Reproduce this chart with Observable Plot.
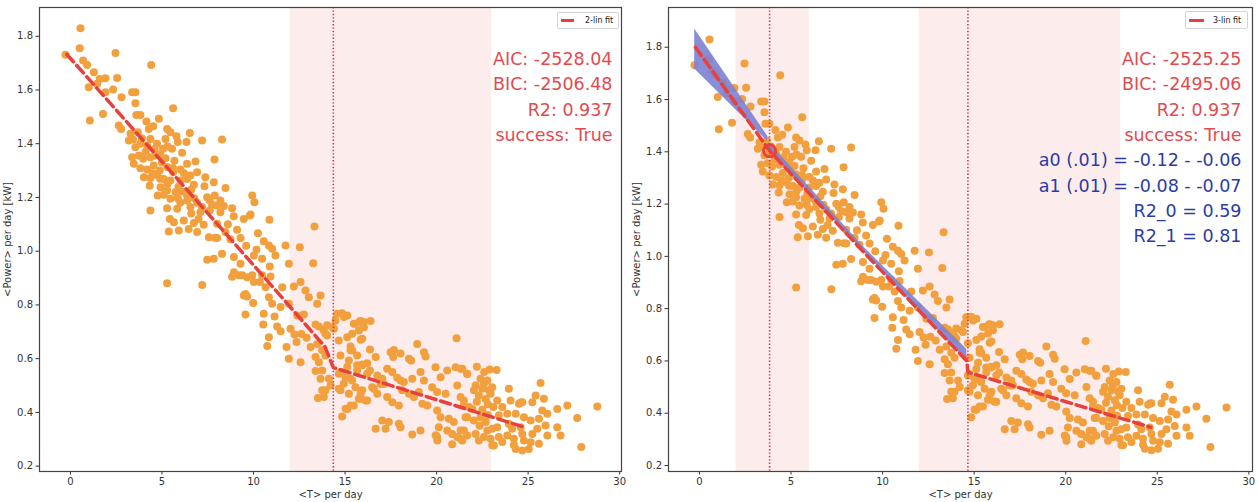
<!DOCTYPE html>
<html><head><meta charset="utf-8">
<script src="https://cdn.jsdelivr.net/npm/d3@7"></script>
<script src="https://cdn.jsdelivr.net/npm/@observablehq/plot@0.6"></script>
<style>
body{margin:0;background:#fff;font-family:"DejaVu Sans",sans-serif;}
#wrap{position:relative;width:1258px;height:502px;overflow:hidden;}
.panel{position:absolute;top:0;}
.legend{position:absolute;background:#fff;border:1px solid #d4d4d4;border-radius:2px;box-sizing:border-box;font-size:8px;color:#222;font-family:"DejaVu Sans",sans-serif;}
.legend .sw{position:absolute;height:3px;background:#e8403c;}
.legend .lb{position:absolute;white-space:nowrap;line-height:10px;}
</style></head>
<body>
<div id="wrap">
  <div class="panel" id="p1" style="left:0"></div>
  <div class="panel" id="p2" style="left:629px"></div>
  <div class="legend" style="left:557px;top:12px;width:62px;height:17px;"><div class="sw" style="left:3px;top:6px;width:13px"></div><div class="lb" style="left:27px;top:3px">2-lin fit</div></div>
  <div class="legend" style="left:1185px;top:11px;width:63px;height:18px;"><div class="sw" style="left:3px;top:7px;width:15px"></div><div class="lb" style="left:27px;top:4px">3-lin fit</div></div>
</div>
<script>
// Observations: [<T> per day, <Power> per day kW]
const points = [
[0.55,1.83],[0.51,1.755],[-0.27,1.731],[0.69,1.71],[0.91,1.693],[2.46,1.738],[4.41,1.693],[1.28,1.666],[1.60,1.641],[1.91,1.644],[2.55,1.645],[1.0,1.61],[1.46,1.623],[1.91,1.592],[2.33,1.602],[2.79,1.573],[3.37,1.592],[3.55,1.592],[3.55,1.551],[3.60,1.507],[3.82,1.507],[1.06,1.486],[1.78,1.511],[5.61,1.532],[2.77,1.455],[2.64,1.468],[3.28,1.437],[3.19,1.412],[3.42,1.416],[3.68,1.443],[4.15,1.483],[4.28,1.455],[4.52,1.465],[4.83,1.493],[5.28,1.455],[5.46,1.443],[5.79,1.428],[5.86,1.406],[6.34,1.406],[6.52,1.44],[7.19,1.412],[8.28,1.416],[3.55,1.387],[3.82,1.4],[4.19,1.393],[4.37,1.418],[4.73,1.4],[5.19,1.418],[5.06,1.381],[5.55,1.381],[6.10,1.366],[3.37,1.35],[3.73,1.356],[3.97,1.344],[4.37,1.35],[4.64,1.356],[5.19,1.346],[5.68,1.337],[6.37,1.325],[6.83,1.334],[7.87,1.341],[3.46,1.325],[3.82,1.309],[4.19,1.304],[4.55,1.319],[4.88,1.30],[5.28,1.313],[5.61,1.294],[6.01,1.304],[6.55,1.282],[6.92,1.294],[7.37,1.275],[4.01,1.275],[4.37,1.272],[4.73,1.284],[5.10,1.269],[5.46,1.263],[6.01,1.263],[6.37,1.269],[6.74,1.247],[7.32,1.242],[7.83,1.257],[8.47,1.235],[4.33,1.244],[4.92,1.238],[5.28,1.226],[5.74,1.22],[6.10,1.222],[6.37,1.207],[6.77,1.197],[7.47,1.201],[7.88,1.207],[8.19,1.189],[4.77,1.207],[5.46,1.195],[5.86,1.197],[6.37,1.189],[6.92,1.18],[7.19,1.164],[7.74,1.173],[8.38,1.168],[8.83,1.16],[4.37,1.151],[5.28,1.16],[5.83,1.158],[6.55,1.164],[7.10,1.145],[7.61,1.151],[8.19,1.145],[8.92,1.13],[5.43,1.12],[5.65,1.108],[6.19,1.114],[6.74,1.105],[7.28,1.098],[8.01,1.102],[9.47,1.12],[9.80,1.133],[5.37,1.073],[5.92,1.077],[6.46,1.083],[6.92,1.071],[7.56,1.052],[8.01,1.049],[8.47,1.071],[8.74,1.044],[9.29,1.049],
[3.9,1.42],[4.1,1.37],[4.6,1.38],[4.9,1.36],[5.3,1.39],[5.0,1.33],[4.5,1.29],[4.9,1.27],[5.6,1.31],[6.2,1.29],[5.3,1.25],[5.9,1.24],[6.6,1.23],[5.1,1.21],[6.0,1.18],[6.6,1.14],[7.0,1.12],[7.6,1.19],[8.0,1.17],[8.6,1.1],[9.1,1.08],[7.9,1.05],[9.6,1.02],
[9.93,1.207],[10.05,1.182],[10.87,1.117],[9.84,1.137],[13.33,1.092],[10.24,1.067],[10.56,1.037],[10.84,1.021],[11.02,1.009],[11.2,0.984],[11.75,1.021],[12.53,1.015],[10.16,1.005],[10.02,0.984],[10.47,0.972],[11.93,0.953],[13.26,0.955],[10.89,0.943],[9.93,0.91],[10.47,0.91],[10.35,0.885],[10.93,0.906],[10.66,0.866],[11.57,0.866],[12.2,0.869],[12.57,0.885],[12.84,0.854],[10.84,0.829],[11.02,0.804],[11.48,0.792],[11.93,0.804],[13.02,0.829],[13.66,0.835],[13.48,0.804],[9.65,0.831],[9.98,0.807],[9.56,0.764],[10.56,0.767],[11.15,0.757],[12.39,0.761],[12.75,0.764],[13.39,0.727],[13.57,0.72],[13.84,0.705],[14.02,0.686],[14.3,0.717],[10.53,0.727],[11.29,0.72],[11.48,0.702],[12.02,0.711],[12.24,0.69],[12.61,0.692],[12.9,0.678],[10.84,0.68],[11.8,0.643],[12.35,0.662],[13.12,0.643],[13.48,0.655],[13.75,0.631],[11.93,0.6],[12.57,0.587],[13.39,0.606],[13.57,0.587],[13.93,0.612],[13.39,0.554],[13.66,0.525],[13.93,0.482],[13.52,0.454],[14.57,0.767],[14.94,0.755],[15.57,0.73],[16.03,0.736],[14.66,0.668],[15.12,0.68],[14.75,0.612],[15.3,0.631],[15.66,0.612],[14.66,0.544],[15.03,0.531],[15.39,0.519],[15.12,0.569],[15.66,0.556],[15.94,0.575],[16.21,0.544],[14.75,0.482],[15.21,0.469],[15.85,0.469],[15.12,0.413],
[7.2,0.874],[8.93,0.922],[8.83,0.905],[9.38,0.91],[9.47,0.835],[5.28,0.881],[7.47,0.968],[7.83,0.972],[8.28,0.99],[8.93,0.978],[9.29,0.953],[9.2,0.91],[9.65,0.903],[10.02,0.885],[9.56,0.841],[10.75,0.647],
[16.39,0.74],[17.49,0.624],[17.63,0.606],[18.49,0.6],[18.61,0.593],[18.94,0.655],[19.31,0.624],[19.4,0.608],[21.09,0.676],[17.3,0.562],[17.58,0.55],[17.85,0.529],[18.03,0.519],[16.67,0.606],[17.03,0.525],[17.12,0.506],[16.57,0.488],[16.76,0.469],[17.3,0.457],[17.58,0.438],[17.94,0.426],[18.12,0.482],[18.49,0.469],[18.76,0.457],[19.03,0.476],[18.21,0.513],[18.67,0.525],[19.12,0.55],[19.31,0.519],[19.94,0.568],[20.22,0.531],[20.58,0.556],[21.04,0.568],[21.4,0.562],[21.67,0.544],[19.76,0.494],[20.03,0.476],[20.49,0.469],[21.13,0.5],[21.31,0.457],[19.22,0.432],[19.49,0.426],[20.03,0.407],[20.22,0.382],[20.67,0.376],[20.94,0.364],[21.49,0.426],[21.67,0.382],[20.12,0.345],[20.58,0.333],[20.85,0.32],[21.13,0.308],[21.49,0.333],[20.03,0.308],[19.12,0.333],[18.67,0.318],[17.94,0.358],[18.03,0.345],[17.39,0.364],[17.03,0.37],[16.67,0.339],[20.85,0.281],[21.31,0.302],[14.84,0.385],[15.03,0.414],[15.48,0.426],[15.85,0.451],[16.12,0.444],
[15.81,0.739],[15.99,0.72],[15.76,0.705],[15.94,0.674],[16.36,0.634],[17.67,0.632],[18.03,0.619],[19.95,0.315],[17.21,0.339],[21.4,0.295],[20.04,0.295],
[14.84,0.769],[15.12,0.761],[15.48,0.73],[15.85,0.74],[16.03,0.717],[14.02,0.724],[14.39,0.711],[13.93,0.693],[14.48,0.742],[15.39,0.693],[15.85,0.67],[15.3,0.645],[15.39,0.63],[15.21,0.593],[15.66,0.575],[15.94,0.578],[16.21,0.583],[16.36,0.556],[14.75,0.55],[15.3,0.525],[14.93,0.507],[14.12,0.525],[14.21,0.5],[14.66,0.488],[15.57,0.494],[15.94,0.482],[16.48,0.494],[15.75,0.451],[16.21,0.444],[15.3,0.426],[13.75,0.482],[13.84,0.457],[16.76,0.537],[16.94,0.506],[13.75,0.556],
[23.28,0.558],[21.31,0.562],[21.67,0.543],[22.4,0.525],[22.77,0.519],[23.04,0.494],[22.13,0.5],[22.49,0.488],[22.31,0.463],[22.68,0.45],[22.95,0.469],[23.95,0.488],[24.04,0.444],[24.5,0.432],[24.68,0.438],[25.68,0.509],[25.86,0.451],[25.41,0.463],[25.23,0.438],[26.59,0.413],[27.14,0.426],[28.78,0.422],[27.68,0.379],[25.77,0.407],[26.05,0.395],[25.59,0.376],[23.31,0.444],[23.59,0.42],[23.4,0.389],[23.86,0.395],[21.49,0.444],[21.77,0.42],[21.58,0.382],[22.04,0.37],[21.95,0.413],[22.4,0.382],[22.68,0.364],[23.04,0.339],[23.31,0.345],[24.32,0.395],[24.77,0.382],[24.59,0.345],[25.14,0.37],[25.23,0.32],[25.5,0.339],[25.95,0.351],[26.05,0.314],[26.59,0.345],[26.77,0.314],[23.95,0.357],[24.13,0.339],[23.86,0.314],[24.22,0.302],[21.31,0.333],[21.67,0.314],[22.13,0.32],[22.59,0.308],[22.95,0.302],[23.4,0.308],[23.59,0.29],[23.13,0.277],[24.68,0.32],[24.77,0.295],[25.14,0.289],[25.59,0.283],[24.32,0.264],[24.68,0.258],[25.04,0.264],[27.9,0.271],[22.31,0.295],[22.77,0.333],
[22.86,0.482],[22.04,0.482],[22.58,0.507],[24.59,0.437],[23.04,0.278],[24.22,0.279],[22.2,0.44],[22.5,0.41],[22.8,0.43],[22.6,0.55],[22.9,0.56],[22.2,0.57],[23.1,0.42],[22.35,0.35],[22.8,0.39]
];

const xTicks = [0, 5, 10, 15, 20, 25, 30];
const yTicks = [0.2, 0.4, 0.6, 0.8, 1.0, 1.2, 1.4, 1.6, 1.8];

// 2-segment fit (left)
const fit2 = [{x:-0.2,y:1.733},{x:8.74,y:1.046},{x:13.9,y:0.645},{x:14.36,y:0.567},{x:24.8,y:0.345}];
const breaks2 = [14.36];
const spans2 = [{x1:12, x2:23}];
const stats2 = ["AIC: -2528.04","BIC: -2506.48","R2: 0.937","success: True"];

// 3-segment fit (right)
const fit3 = [{x:-0.22,y:1.8},{x:3.83,y:1.404},{x:8.89,y:1.022},{x:14.6,y:0.6},{x:14.66,y:0.557},{x:24.65,y:0.346}];
const breaks3 = [3.83, 14.66];
const knots3 = [{x:3.83, y:1.404}];
const spans3 = [{x1:2, x2:6},{x1:12, x2:23}];
const bandA = [{x:-0.26, lo:1.717, hi:1.87},{x:3.72, lo:1.44, hi:1.46}];
const bandB = [{x:3.8, lo:1.405, hi:1.435},{x:9.0, lo:1.016, hi:1.034},{x:14.6, lo:0.6, hi:0.645}];
const stats3 = ["AIC: -2525.25","BIC: -2495.06","R2: 0.937","success: True"];
const ci3 = ["a0 (.01) = -0.12 - -0.06","a1 (.01) = -0.08 - -0.07","R2_0 = 0.59","R2_1 = 0.81"];

const ORANGE = "#f2a03e", RED = "#e8403c", TXTRED = "#e34a4e", BLUE = "#2b3ca6", PINK = "#fcecec", DOT = "#d23a50";

function axes() {
  return [
    Plot.axisX({ticks: xTicks, tickSize: 3.5, tickPadding: 3, fontSize: 10, label: "<T> per day", labelAnchor: "center", labelArrow: "none", labelOffset: 26}),
    Plot.axisY({ticks: yTicks, tickSize: 3.5, tickPadding: 3, fontSize: 10, tickFormat: d => d.toFixed(1), label: "<Power> per day [kW]", labelAnchor: "center", labelArrow: "none", labelOffset: 36})
  ];
}
const style = {fontFamily: "DejaVu Sans", fontSize: "10px", color: "#333", background: "white", overflow: "visible"};

const left = Plot.plot({
  width: 629, height: 502,
  marginLeft: 39, marginRight: 8, marginTop: 7, marginBottom: 31,
  x: {domain: [-1.69, 30.1]},
  y: {domain: [0.18, 1.907]},
  style,
  marks: [
    Plot.rect(spans2, {x1: "x1", x2: "x2", fill: PINK}),
    ...axes(),
    Plot.dot(points, {x: d => d[0], y: d => d[1], r: 4, fill: ORANGE}),
    Plot.ruleX(breaks2, {stroke: DOT, strokeWidth: 1.6, strokeDasharray: "1.4,2"}),
    Plot.line(fit2, {x: "x", y: "y", stroke: RED, strokeWidth: 3.5, strokeDasharray: "10,5"}),
    Plot.text([stats2.join("\n")], {text: d => d, frameAnchor: "top-right", textAnchor: "end", dx: -9, dy: 39, fontSize: 17.5, lineHeight: 1.457, fill: TXTRED}),
    Plot.frame({stroke: "#444", strokeWidth: 1.2})
  ]
});
document.getElementById("p1").appendChild(left);

const right = Plot.plot({
  width: 629, height: 502,
  marginLeft: 39, marginRight: 6, marginTop: 7, marginBottom: 31,
  x: {domain: [-1.69, 30.2]},
  y: {domain: [0.177, 1.952]},
  style,
  marks: [
    Plot.rect(spans3, {x1: "x1", x2: "x2", fill: PINK}),
    ...axes(),
    Plot.dot(points, {x: d => d[0], y: d => d[1], r: 4, fill: ORANGE}),
    Plot.ruleX(breaks3, {stroke: DOT, strokeWidth: 1.6, strokeDasharray: "1.4,2"}),
    Plot.areaY(bandA, {x: "x", y1: "lo", y2: "hi", fill: "#7c82d4", fillOpacity: 0.9}),
    Plot.areaY(bandB, {x: "x", y1: "lo", y2: "hi", fill: "#7c82d4", fillOpacity: 0.9}),
    Plot.line(fit3, {x: "x", y: "y", stroke: RED, strokeWidth: 3.5, strokeDasharray: "10,5"}),
    Plot.dot(knots3, {x: "x", y: "y", r: 6, stroke: RED, strokeWidth: 3, fill: "none"}),
    Plot.text([stats3.join("\n")], {text: d => d, frameAnchor: "top-right", textAnchor: "end", dx: -11, dy: 39, fontSize: 17.5, lineHeight: 1.457, fill: TXTRED}),
    Plot.text([ci3.join("\n")], {text: d => d, frameAnchor: "top-right", textAnchor: "end", dx: -11, dy: 141, fontSize: 17.5, lineHeight: 1.44, fill: BLUE}),
    Plot.frame({stroke: "#444", strokeWidth: 1.2})
  ]
});
document.getElementById("p2").appendChild(right);
</script>
</body></html>
